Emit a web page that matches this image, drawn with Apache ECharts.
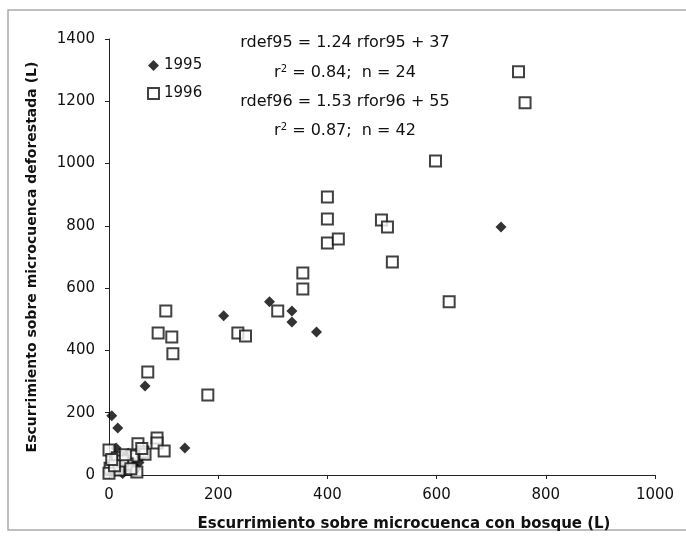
<!DOCTYPE html>
<html>
<head>
<meta charset="utf-8">
<title></title>
<script src="https://cdn.jsdelivr.net/npm/echarts@6/dist/echarts.min.js"></script>
<style>
  html, body { margin: 0; padding: 0; background: #fff; }
  #chart { width: 686px; height: 557px; }
</style>
</head>
<body>
<div id="chart"></div>
<script>
// 1995 (diamonds): [rfor, rdef]
var data1995 = [
  [5, 190], [16, 151], [13, 87], [66, 286], [139, 87], [210, 511],
  [294, 556], [335, 527], [335, 491], [380, 459], [718, 796], [44, 32],
  [10, 60], [20, 40], [30, 20], [40, 50], [5, 10], [25, 5],
  [50, 20], [60, 60], [15, 25], [35, 70], [55, 40], [45, 10]
];
// 1996 (hollow squares)
var data1996 = [
  [750, 1295], [762, 1195], [598, 1008], [400, 893], [400, 822], [400, 745],
  [420, 758], [499, 819], [510, 796], [519, 684], [355, 649], [355, 597],
  [309, 527], [236, 456], [250, 446], [181, 257], [623, 556],
  [104, 527], [90, 456], [115, 443], [117, 389], [71, 331],
  [88, 119], [88, 103], [101, 77],
  [0, 80], [15, 55], [53, 100], [62, 74], [66, 67], [44, 61],
  [33, 35], [2, 22], [18, 16], [0, 6], [51, 10],
  [25, 45], [40, 20], [10, 30], [60, 85], [30, 65], [5, 50]
];
var xTitle = 'Escurrimiento sobre microcuenca con bosque (L)';
var yTitle = 'Escurrimiento sobre microcuenca deforestada (L)';
var eqLines = [
  'rdef95 = 1.24 rfor95 + 37',
  '{t|r}{s|2}{t| = 0.84;  n = 24}',
  'rdef96 = 1.53 rfor96 + 55',
  '{t|r}{s|2}{t| = 0.87;  n = 42}'
];

var chart = echarts.init(document.getElementById('chart'));
var font = 'DejaVu Sans, Liberation Sans, sans-serif';
var eqY = [43, 73, 102, 131];
var eqGraphics = eqLines.map(function (txt, i) {
  return {
    type: 'text',
    x: 345, y: eqY[i],
    style: {
      text: txt, align: 'center', verticalAlign: 'middle',
      fill: '#111', font: '16px ' + font,
      rich: {
        t: { fontSize: 16, fontFamily: font, fill: '#111' },
        s: { fontSize: 10, fontFamily: font, fill: '#111', verticalAlign: 'top', padding: [0, 0, 8, 0] }
      }
    }
  };
});

chart.setOption({
  backgroundColor: '#fff',
  animation: false,
  grid: { left: 109, right: 31, top: 39, bottom: 82 },
  legend: {
    orient: 'vertical', left: 142, top: 53, itemGap: 13,
    itemWidth: 11, itemHeight: 11,
    textStyle: { fontSize: 15, fontFamily: font, color: '#111' },
    data: ['1995', '1996']
  },
  xAxis: {
    type: 'value', min: 0, max: 1000, interval: 200,
    name: xTitle, nameLocation: 'middle', nameGap: 42,
    nameTextStyle: { fontSize: 15, fontFamily: font, color: '#111', fontWeight: 'bold',
      padding: [0, 0, 0, 44] },
    axisLine: { lineStyle: { color: '#222', width: 1 } },
    axisTick: { show: true, length: 4, lineStyle: { color: '#222' } },
    axisLabel: { fontSize: 15, fontFamily: font, color: '#111', margin: 13,
      formatter: function (v) { return String(v); } },
    splitLine: { show: false }
  },
  yAxis: {
    type: 'value', min: 0, max: 1400, interval: 200,
    name: yTitle, nameLocation: 'middle', nameGap: 70,
    nameTextStyle: { fontSize: 14, fontFamily: font, color: '#111', fontWeight: 'bold' },
    axisLine: { show: true, lineStyle: { color: '#222', width: 1 } },
    axisTick: { show: true, length: 4, lineStyle: { color: '#222' } },
    axisLabel: { fontSize: 15, fontFamily: font, color: '#111', margin: 14,
      formatter: function (v) { return String(v); } },
    splitLine: { show: false }
  },
  graphic: [
    {
      type: 'rect', silent: true, z: -1,
      shape: { x: 8, y: 10, width: 690, height: 520 },
      style: { fill: 'none', stroke: '#aaa', lineWidth: 1.5 }
    }
  ].concat(eqGraphics),
  series: [
    {
      name: '1995', type: 'scatter', data: data1995,
      symbol: 'diamond', symbolSize: 11, z: 2,
      itemStyle: { color: '#000' }
    },
    {
      name: '1996', type: 'scatter', data: data1996,
      symbol: 'rect', symbolSize: 11, z: 3,
      itemStyle: { color: '#fff', borderColor: '#111', borderWidth: 2 }
    }
  ]
});
</script>
</body>
</html>
